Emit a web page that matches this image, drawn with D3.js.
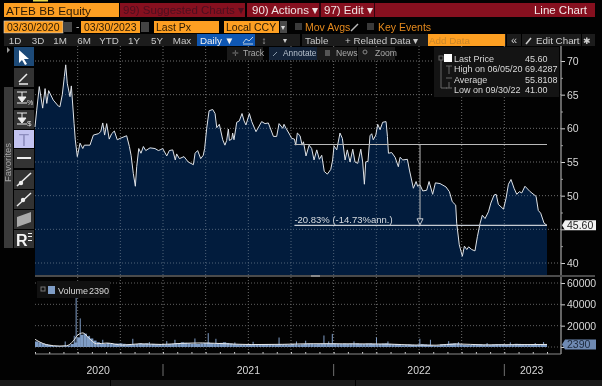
<!DOCTYPE html>
<html>
<head>
<meta charset="utf-8">
<script src="https://cdnjs.cloudflare.com/ajax/libs/d3/7.8.5/d3.min.js"></script>
<style>
html, body { margin: 0; padding: 0; background: #000; }
svg { display: block; filter: blur(0.35px); }
text { font-family: "Liberation Sans", Arial, sans-serif; }
</style>
</head>
<body>
<div id="chart"></div>
<script>
// price: decimal year + last px
var priceYears = [2020.250,2020.260,2020.275,2020.295,2020.309,2020.319,2020.330,2020.357,2020.387,2020.396,2020.410,2020.422,2020.430,2020.439,2020.455,2020.463,2020.479,2020.486,2020.498,2020.514,2020.530,2020.539,2020.572,2020.592,2020.621,2020.635,2020.647,2020.658,2020.670,2020.685,2020.699,2020.715,2020.732,2020.748,2020.787,2020.803,2020.813,2020.826,2020.838,2020.846,2020.858,2020.871,2020.885,2020.899,2020.924,2020.953,2020.973,2020.983,2020.998,
  2021.022,2021.037,2021.057,2021.072,2021.080,2021.096,2021.123,2021.148,2021.178,2021.188,2021.203,2021.221,2021.236,2021.244,2021.256,2021.270,2021.291,2021.305,2021.315,2021.330,2021.350,2021.363,2021.373,2021.383,2021.389,2021.403,2021.408,2021.416,2021.432,2021.447,2021.463,2021.475,2021.486,2021.506,2021.520,2021.545,2021.578,2021.598,2021.617,2021.647,2021.666,2021.680,2021.702,2021.709,2021.721,2021.744,2021.754,2021.770,2021.778,2021.787,2021.803,2021.815,2021.823,2021.838,2021.856,2021.871,2021.885,2021.901,2021.916,2021.930,2021.945,2021.963,2021.983,2021.994,
  2022.002,2022.018,2022.037,2022.051,2022.067,2022.080,2022.096,2022.112,2022.125,2022.141,2022.159,2022.170,2022.180,2022.188,2022.201,2022.213,2022.223,2022.232,2022.247,2022.258,2022.272,2022.287,2022.307,2022.315,2022.321,2022.340,2022.360,2022.379,2022.389,2022.405,2022.432,2022.444,2022.467,2022.483,2022.492,2022.506,2022.522,2022.545,2022.559,2022.580,2022.596,2022.623,2022.658,2022.678,2022.695,2022.715,2022.721,2022.736,2022.754,2022.766,2022.780,2022.791,2022.809,2022.828,2022.842,2022.858,2022.871,2022.887,2022.907,2022.921,2022.940,2022.952,2022.965,2022.995,
  2023.010,2023.024,2023.039,2023.057,2023.073,2023.088,2023.102,2023.121,2023.151,2023.186,2023.199,2023.213,2023.233,2023.250];
var priceValues = [60.2,62.7,66.2,63.0,65.9,63.7,65.6,64.2,63.3,63.2,65.0,67.7,69.43,66.7,64.7,66.3,60.7,58.3,55.8,57.8,57.0,57.5,57.5,59.0,59.2,59.5,60.8,59.0,60.7,58.4,59.2,59.6,58.3,58.5,58.9,57.3,56.0,53.3,51.4,54.3,57.0,56.3,57.3,56.7,57.1,57.0,56.7,56.8,57.0,
  55.9,56.7,56.8,55.3,56.2,55.5,55.8,55.0,54.6,56.3,56.7,55.5,56.0,57.0,60.0,62.6,62.8,62.2,60.1,60.6,58.3,57.5,58.2,59.9,58.2,58.4,59.3,58.3,60.9,61.1,62.2,61.1,60.5,62.2,61.0,59.5,61.0,60.7,60.8,58.8,58.8,60.7,60.0,60.6,60.0,59.0,58.5,58.4,57.5,59.3,58.9,57.5,58.0,55.9,57.5,57.0,55.3,56.8,55.4,56.0,53.6,53.2,53.9,55.3,
  57.4,56.8,59.3,58.5,55.3,56.8,55.0,56.9,55.0,54.8,56.9,55.0,51.7,55.0,55.1,58.9,59.2,58.3,59.0,60.6,59.8,60.9,61.0,58.8,56.3,56.4,55.7,54.3,55.7,55.3,55.4,53.8,51.1,52.1,51.4,51.6,50.7,50.8,52.1,50.2,51.9,51.8,51.3,50.6,49.1,48.6,45.9,42.7,41.0,42.5,42.0,42.4,42.0,41.8,43.9,45.9,47.1,46.6,47.6,48.9,50.1,50.2,48.7,48.0,
  49.6,51.7,52.4,51.1,50.2,50.6,50.4,51.4,50.6,49.9,47.8,47.4,45.9,45.6];

// volume: one value a week from 03/30/2020, plus the tall single days
var volumeWeeks = [5200,4400,3400,2600,1900,1200,900,800,700,800,1500,2800,4200,9000,11500,12500,10000,8000,6000,4500,3200,3000,3800,3500,3000,3200,3400,3000,2400,2200,2500,2800,3500,3000,3400,2700,2900,2600,2700,
  2500,2300,2800,3000,3600,3200,4300,3900,3500,3100,3000,2900,3400,3800,4100,3600,3300,3500,3900,4400,3800,3300,2700,2500,2400,2200,2300,2500,2700,2400,2300,2600,2800,2500,2300,2200,2400,2600,2500,2300,2800,2500,2400,2600,2900,3100,3000,2700,2800,3100,3300,3400,
  3200,3400,3000,2800,3100,2900,3200,3000,3300,2900,2800,3200,3400,3000,2700,2900,3200,3400,2900,2600,2800,2100,1700,2000,2300,2100,1800,2200,2700,2400,2100,1600,1300,1500,2500,2700,3000,3200,3400,3100,2500,2000,1800,1900,2100,2300,2500,2200,2100,1900,2300,2600,2500,2400,
  1900,1800,2400,3000,2900,2500,2300,2200,2400,2600,2500,2700,2390];
var spikeYears = [2020.427,2020.480,2020.491,2020.515,2020.567,2020.647,2020.823,2020.920,2021.022,2021.070,2021.187,2021.265,2021.310,2021.421,2021.528,2021.680,2021.782,2021.836,2021.943,2021.971,2021.992,2022.119,2022.251,2022.318,2022.505,2022.567,2022.674,2022.731,2022.899,2023.035,2023.181,2023.230];
var spikeValues = [5200,10500,60000,26800,10500,6800,7700,4600,5500,6800,8000,13000,7700,4300,4900,8900,5200,5900,10800,5200,12300,5200,8900,5200,7700,6800,5500,4600,3700,4300,3700,4600];

var avgYears = [2020.25,2020.319,2020.396,2020.435,2020.472,2020.502,2020.531,2020.566,2020.611,2020.670,2020.764,2020.862,2020.99,2021.11,2021.23,2021.37,2021.52,2021.70,2021.88,2022.05,2022.21,2022.33,2022.46,2022.60,2022.72,2022.88,2023.05,2023.25];
var avgValues = [7200,2150,900,1200,5200,11400,13200,8300,3000,3700,1800,3000,2400,3400,3800,3000,2300,2500,3100,3000,2900,2700,1900,1700,2900,2000,2200,2390];

var priceTicks = [40,45,50,55,60,65,70];
var priceMinor = [42.5,47.5,52.5,57.5,62.5,67.5];
var volumeTicks = [0,20000,40000,60000];
var quarterGrid = [2020.5,2020.75,2021,2021.25,2021.5,2021.75,2022,2022.25,2022.5,2022.75,2023];
var monthTicks = d3.range(3, 40).map(function (m) { return 2020 + m / 12; });
var yearBreaks = [2021, 2022, 2023];
var yearLabels = [[2020, 2020.62], [2021, 2021.5], [2022, 2022.5], [2023, 2023.16]];

var legendRows = [["Last Price", "45.60"], ["High on 06/05/20", "69.4287"], ["Average", "55.8108"], ["Low on 09/30/22", "41.00"]];
var rangeLabels = ["1D","3D","1M","6M","YTD","1Y","5Y","Max"];
var rangeX = [15,38,60,84,109,134,157,182];

// measured move drawn on the chart
var moveStart = 2021.77, moveEnd = 2023.25, moveHigh = 57.6, moveLow = 45.6, moveArrow = 2022.506;

var w = 602, h = 386;
var orange = "#fd9f22", red = "#86101f", strip = "#1c1c1c", txt = "#d8d8d8";

var svg = d3.select("#chart").append("svg").attr("width", w).attr("height", h);
svg.append("rect").attr("width", w).attr("height", h).attr("fill", "#020202");

var x = d3.scaleLinear().domain([2020.25, 2023.25]).range([35, 547]);
var y = d3.scaleLinear().domain([40, 70]).range([263, 61]);
var yVol = d3.scaleLinear().domain([0, 60000]).range([347, 283]);
var axisX = 561;

// gridlines first
function dots(g, x1, y1, x2, y2, col) {
    g.append("line").attr("x1", x1).attr("y1", y1).attr("x2", x2).attr("y2", y2)
        .attr("stroke", col).attr("stroke-width", 1).attr("stroke-dasharray", "1,2");
}
var grid = svg.append("g");
quarterGrid.forEach(function (q) {
    dots(grid, x(q), 46, x(q), 354, "#6e6e6e");
});
priceTicks.forEach(function (t) { dots(grid, 35, y(t), axisX, y(t), "#6e6e6e"); });
volumeTicks.forEach(function (t) { dots(grid, 35, yVol(t), axisX, yVol(t), "#606060"); });

// price area
var area = d3.area()
    .x(function (d, i) { return x(priceYears[i]); })
    .y0(275)
    .y1(function (d) { return y(d); });
var line = d3.line()
    .x(function (d, i) { return x(priceYears[i]); })
    .y(function (d) { return y(d); });
svg.append("path").attr("d", area(priceValues)).attr("fill", "#021c3d");

// grid shows through the navy fill
var grid2 = svg.append("g").attr("clip-path", "url(#priceClip)");
svg.append("clipPath").attr("id", "priceClip").append("path").attr("d", area(priceValues));
quarterGrid.forEach(function (q) { dots(grid2, x(q), 46, x(q), 275, "#4f6278"); });
priceTicks.forEach(function (t) { dots(grid2, 35, y(t), 547, y(t), "#4f6278"); });

svg.append("path").attr("d", line(priceValues)).attr("fill", "none")
    .attr("stroke", "#dfe3e8").attr("stroke-width", 1).attr("stroke-linejoin", "round");

// measured move
svg.append("line").attr("x1", x(moveStart)).attr("x2", x(moveEnd)).attr("y1", y(moveHigh)).attr("y2", y(moveHigh))
    .attr("stroke", "#b9b9b9").attr("stroke-width", 1.2);
svg.append("line").attr("x1", x(moveStart)).attr("x2", x(moveEnd)).attr("y1", y(moveLow)).attr("y2", y(moveLow))
    .attr("stroke", "#c6cbd2").attr("stroke-width", 1.2);
svg.append("line").attr("x1", x(moveArrow)).attr("x2", x(moveArrow)).attr("y1", y(moveHigh)).attr("y2", y(moveLow) - 6)
    .attr("stroke", "#b9b9b9").attr("stroke-width", 1);
svg.append("path")
    .attr("d", "M" + (x(moveArrow) - 3) + "," + (y(moveLow) - 6.5) + "h6l-3,6z")
    .attr("fill", "none").attr("stroke", "#c6cbd2");
svg.append("text").attr("x", x(moveStart)).attr("y", y(moveLow) - 2)
    .attr("font-size", 9.5).attr("fill", "#d8dce0").text("-20.83% (-14.73%ann.)");

// volume
var weekStep = 3 / volumeWeeks.length;
svg.append("g").selectAll("rect").data(volumeWeeks).join("rect")
    .attr("x", function (d, i) { return x(2020.25 + i * weekStep); })
    .attr("width", x(2020.25 + weekStep) - x(2020.25))
    .attr("y", function (d) { return yVol(d); })
    .attr("height", function (d) { return yVol(0) - yVol(d); })
    .attr("fill", "#7f9dc6");
svg.append("g").selectAll("rect").data(spikeValues).join("rect")
    .attr("x", function (d, i) { return x(spikeYears[i]) - 0.5; })
    .attr("width", 1)
    .attr("y", function (d) { return yVol(d); })
    .attr("height", function (d) { return yVol(0) - yVol(d); })
    .attr("fill", "#7f9dc6");
var avgLine = d3.line()
    .x(function (d, i) { return x(avgYears[i]); })
    .y(function (d) { return yVol(d); })
    .curve(d3.curveMonotoneX);
svg.append("path").attr("d", avgLine(avgValues)).attr("fill", "none")
    .attr("stroke", "#e8e8e8").attr("stroke-width", 1);

// right hand axes
var axPrice = d3.axisRight(y).tickValues(priceTicks).tickSize(4).tickPadding(2);
var gp = svg.append("g").attr("transform", "translate(" + axisX + ",0)").call(axPrice);
// the 45.60 and 2390 tags sit on top of these two labels
gp.selectAll(".tick").filter(function (d) { return d === 45; }).select("text").remove();
var axVol = d3.axisRight(yVol).tickValues(volumeTicks).tickSize(4).tickPadding(2).tickFormat(d3.format("d"));
var gv = svg.append("g").attr("transform", "translate(" + axisX + ",0)").call(axVol);
gv.selectAll(".tick").filter(function (d) { return d === 0; }).select("text").remove();
[gp, gv].forEach(function (g) {
    g.select(".domain").remove();
    g.selectAll("line").attr("stroke", "#d0d0d0");
    g.selectAll("text").attr("fill", txt).attr("font-size", 10.5)
        .attr("font-family", '"Liberation Sans", Arial, sans-serif');
});
var axMinor = d3.axisRight(y).tickValues(priceMinor).tickSize(2).tickFormat("");
var gm = svg.append("g").attr("transform", "translate(" + axisX + ",0)").call(axMinor);
gm.select(".domain").remove();
gm.selectAll("line").attr("stroke", "#9a9a9a");
svg.append("line").attr("x1", axisX).attr("x2", axisX).attr("y1", 46).attr("y2", 354)
    .attr("stroke", "#a8a8a8").attr("stroke-width", 1.2);

// bottom time axis
var axTime = d3.axisBottom(x).tickValues(monthTicks).tickSize(-2).tickFormat("");
var gt = svg.append("g").attr("transform", "translate(0,354)").call(axTime);
gt.select(".domain").remove();
gt.selectAll("line").attr("stroke", "#d0d0d0");
svg.append("line").attr("x1", 35).attr("x2", axisX).attr("y1", 354).attr("y2", 354)
    .attr("stroke", "#8a8a8a").attr("stroke-width", 1.2);
yearBreaks.forEach(function (b) {
    svg.append("line").attr("x1", x(b)).attr("x2", x(b)).attr("y1", 364).attr("y2", 376).attr("stroke", "#707070");
});
yearLabels.forEach(function (d) {
    svg.append("text").attr("x", x(d[1])).attr("y", 374).attr("text-anchor", "middle")
        .attr("font-size", 10.5).attr("fill", txt).text(d[0]);
});

// panel divider and bottom strip
svg.append("rect").attr("x", 35).attr("y", 275).attr("width", 560).attr("height", 2).attr("fill", "#4b4b4b");
svg.append("rect").attr("x", 311).attr("y", 275).attr("width", 9).attr("height", 2).attr("fill", "#8a8a8a");
svg.append("rect").attr("x", 0).attr("y", 380).attr("width", w).attr("height", 6).attr("fill", "#1a1a1a");
svg.append("rect").attr("x", 110).attr("y", 380).attr("width", 1).attr("height", 6).attr("fill", "#000");
svg.append("rect").attr("x", 355).attr("y", 380).attr("width", 1).attr("height", 6).attr("fill", "#000");

// last value tags
function tag(val, scale, fill, col) {
    var cy = scale(val);
    svg.append("path").attr("d", "M562," + cy + "l3,-5h31v10h-31z").attr("fill", fill);
    svg.append("text").attr("x", 567).attr("y", cy + 3.8).attr("font-size", 10.5).attr("fill", col).text(val === 45.6 ? "45.60" : val);
}
tag(45.6, y, "#f2f2f2", "#222");
tag(2390, yVol, "#6f8ab3", "#1e2a3c");

// legend
var lg = svg.append("g");
lg.append("rect").attr("x", 434).attr("y", 47).attr("width", 125).attr("height", 50).attr("fill", "#141414");
lg.append("rect").attr("x", 444).attr("y", 54).attr("width", 8).attr("height", 8).attr("fill", "#fff");
lg.append("rect").attr("x", 439).attr("y", 56).attr("width", 4).attr("height", 4).attr("fill", "none").attr("stroke", "#666");
lg.append("path").attr("d", "M441,60V88h6M446,66h6M449,66v8M446,78h6M446,88h6M449,82v6").attr("fill", "none").attr("stroke", "#666");
legendRows.forEach(function (r, i) {
    lg.append("text").attr("x", 454).attr("y", 62 + i * 10.4).attr("font-size", 9).attr("fill", txt).text(r[0]);
    lg.append("text").attr("x", 525).attr("y", 62 + i * 10.4).attr("font-size", 9).attr("fill", txt).text(r[1]);
});
var lv = svg.append("g");
lv.append("rect").attr("x", 37).attr("y", 281).attr("width", 73).attr("height", 17).attr("fill", "#111");
lv.append("rect").attr("x", 41).attr("y", 287).attr("width", 4).attr("height", 4).attr("fill", "none").attr("stroke", "#777");
lv.append("rect").attr("x", 48).attr("y", 286).attr("width", 7).attr("height", 8).attr("fill", "#7f9dc6");
lv.append("text").attr("x", 58).attr("y", 294).attr("font-size", 9).attr("fill", txt).text("Volume");
lv.append("text").attr("x", 89).attr("y", 294).attr("font-size", 9).attr("fill", txt).text("2390");

// header rows
function box(g, x0, y0, bw, bh, fill) {
    return g.append("rect").attr("x", x0).attr("y", y0).attr("width", bw).attr("height", bh).attr("fill", fill);
}
function label(g, x0, y0, s, size, col, anchor) {
    return g.append("text").attr("x", x0).attr("y", y0).attr("font-size", size).attr("fill", col)
        .attr("text-anchor", anchor || "start").text(s);
}
var hd = svg.append("g");
box(hd, 33, 0, 15, 1.5, "#e6d84a");
box(hd, 4, 3, 115, 14, orange);
label(hd, 6, 14.5, "ATEB BB Equity", 11.8, "#2a1a05");
box(hd, 120, 3, 475, 14, red);
box(hd, 245, 3, 2, 14, "#020202");
box(hd, 319, 3, 2, 14, "#300510");
box(hd, 374, 3, 1, 14, "#300510");
label(hd, 123, 14, "99) Suggested Charts ▾", 11.5, "#4c0f1f");
label(hd, 252, 14, "90) Actions ▾", 11.5, "#efe4e4");
label(hd, 324, 14, "97) Edit ▾", 11.5, "#efe4e4");
label(hd, 587, 14, "Line Chart", 11.5, "#f2e8e8", "end");

box(hd, 4, 21, 59, 12, orange).attr("stroke", "#d8d8d8").attr("stroke-width", 0.6);
label(hd, 7, 31, "03/30/2020", 10.5, "#2a1a05");
box(hd, 64, 22, 8, 10, "#444");
label(hd, 76, 30, "-", 10, "#ccc");
box(hd, 81, 21, 59, 12, orange);
label(hd, 84, 31, "03/30/2023", 10.5, "#2a1a05");
box(hd, 141, 22, 8, 10, "#444");
box(hd, 154, 21, 65, 12, orange);
label(hd, 156, 31, "Last Px", 10.5, "#2a1a05");
box(hd, 224, 21, 55, 12, orange);
label(hd, 226, 31, "Local CCY", 10.5, "#2a1a05");
box(hd, 280, 21, 7, 12, "#4a4a4a");
label(hd, 281, 30, "▾", 8, "#ddd");
box(hd, 295, 23, 7, 7, "#3a3a3a");
label(hd, 305, 31, "Mov Avgs", 10.5, "#e58a1e");
box(hd, 367, 23, 7, 7, "#3a3a3a");
label(hd, 378, 31, "Key Events", 10.5, "#e58a1e");
hd.append("path").attr("d", "M351,31l7,-7").attr("stroke", "#bbb").attr("stroke-width", 1.5);

box(hd, 4, 34, 591, 12, strip);
rangeLabels.forEach(function (s, i) { label(hd, rangeX[i], 44, s, 9.8, "#c8c8c8", "middle"); });
box(hd, 197, 34, 43, 12, "#0f57b3");
label(hd, 200, 44, "Daily ▼", 9.8, "#f0f0f0");
box(hd, 240, 34, 15, 12, "#0f57b3");
hd.append("path").attr("d", "M243,43l3,-4l3,2l4,-4M243,44h10").attr("fill", "none").attr("stroke", "#bcd");
label(hd, 264, 44, "↕", 10, "#aaa", "middle");
label(hd, 285, 43, "▾", 8, "#ccc", "middle");
box(hd, 300, 34, 2, 12, "#000");
label(hd, 305, 44, "Table", 9.8, "#c8c8c8");
label(hd, 345, 44, "+ Related Data ▾", 9.8, "#c8c8c8");
box(hd, 428, 34, 77, 12, orange);
label(hd, 429, 44, "Add Data", 9.8, "#c8862a");
box(hd, 506, 34, 1, 12, "#000");
label(hd, 514, 44, "«", 11, "#ccc", "middle");
box(hd, 521, 34, 1, 12, "#000");
hd.append("path").attr("d", "M526,44l5,-6").attr("stroke", "#ccc").attr("stroke-width", 1.5);
label(hd, 536, 44, "Edit Chart", 9.8, "#d0d0d0");
box(hd, 581, 34, 1, 12, "#000");
label(hd, 587, 44, "✱", 9, "#ccc", "middle");

// annotation bar
box(hd, 227, 47, 36, 13, "#1a1a1a");
label(hd, 232, 56, "✛", 8, "#777");
label(hd, 243, 56, "Track", 8.6, "#aaa");
box(hd, 269, 47, 48, 13, "#14243a");
hd.append("path").attr("d", "M273,56l4,-4").attr("stroke", "#8899aa");
label(hd, 283, 56, "Annotate", 8.4, "#b6c0cc");
box(hd, 317, 47, 40, 13, "#1a1a1a");
box(hd, 325, 50, 5, 6, "#555");
label(hd, 336, 56, "News", 8.6, "#aaa");
box(hd, 358, 47, 37, 13, "#1a1a1a");
label(hd, 375, 56, "Zoom", 8.6, "#aaa");
hd.append("circle").attr("cx", 365).attr("cy", 52).attr("r", 2).attr("fill", "none").attr("stroke", "#888");

// left tool strip
var tb = svg.append("g");
hd.append("path").attr("d", "M7,47l3,3l-3,3z").attr("fill", "#999");
box(tb, 4, 87, 9, 161, "#3a3a3a");
box(tb, 14, 47, 20, 19, "#1d4a78");
tb.append("path").attr("d", "M19,50l0,13l3,-3l3,5l2,-1l-3,-5h5z").attr("fill", "#fff");
box(tb, 14, 68, 20, 19, "#333");
tb.append("path").attr("d", "M19,82l8,-8M19,84h9").attr("stroke", "#eee").attr("stroke-width", 1.5);
box(tb, 14, 89, 20, 19, "#333");
tb.append("path").attr("d", "M17,92h10M22,92v5M17,103h10M18,97h8l-4,5z").attr("stroke", "#eee").attr("fill", "#eee");
label(tb, 27, 105, "%", 7, "#ddd");
box(tb, 14, 110, 20, 19, "#333");
tb.append("path").attr("d", "M17,113h10M22,113v5M17,124h10M18,118h8l-4,5z").attr("stroke", "#eee").attr("fill", "#eee");
label(tb, 27, 126, "$", 8, "#ddd");
box(tb, 14, 130, 20, 18, "#c3c3f0");
label(tb, 24, 146, "T", 17, "#8d8dbe", "middle");
box(tb, 14, 149, 20, 19, "#333");
box(tb, 17, 157, 14, 2, "#eee");
box(tb, 14, 170, 20, 19, "#333");
tb.append("path").attr("d", "M17,186l14,-13").attr("stroke", "#eee").attr("stroke-width", 1.6);
tb.append("circle").attr("cx", 21).attr("cy", 183).attr("r", 2.2).attr("fill", "#eee");
box(tb, 14, 190, 20, 19, "#333");
tb.append("path").attr("d", "M17,206l14,-13").attr("stroke", "#eee").attr("stroke-width", 1.4);
tb.append("circle").attr("cx", 23).attr("cy", 200).attr("r", 2.2).attr("fill", "#eee");
box(tb, 14, 210, 20, 19, "#333");
tb.append("path").attr("d", "M17,217l14,-5v10l-14,5z").attr("fill", "#aaa");
box(tb, 14, 230, 20, 18, "#333");
label(tb, 16, 246, "R", 16, "#f4f4f4").attr("font-weight", "bold");
box(tb, 28, 233, 4, 1, "#eee"); box(tb, 28, 236, 4, 1, "#eee"); box(tb, 28, 240, 4, 1, "#eee");
tb.append("text").attr("transform", "translate(11,182) rotate(-90)").attr("font-size", 9.5).attr("fill", "#a8a8a8").text("Favorites");
</script>
</body>
</html>
